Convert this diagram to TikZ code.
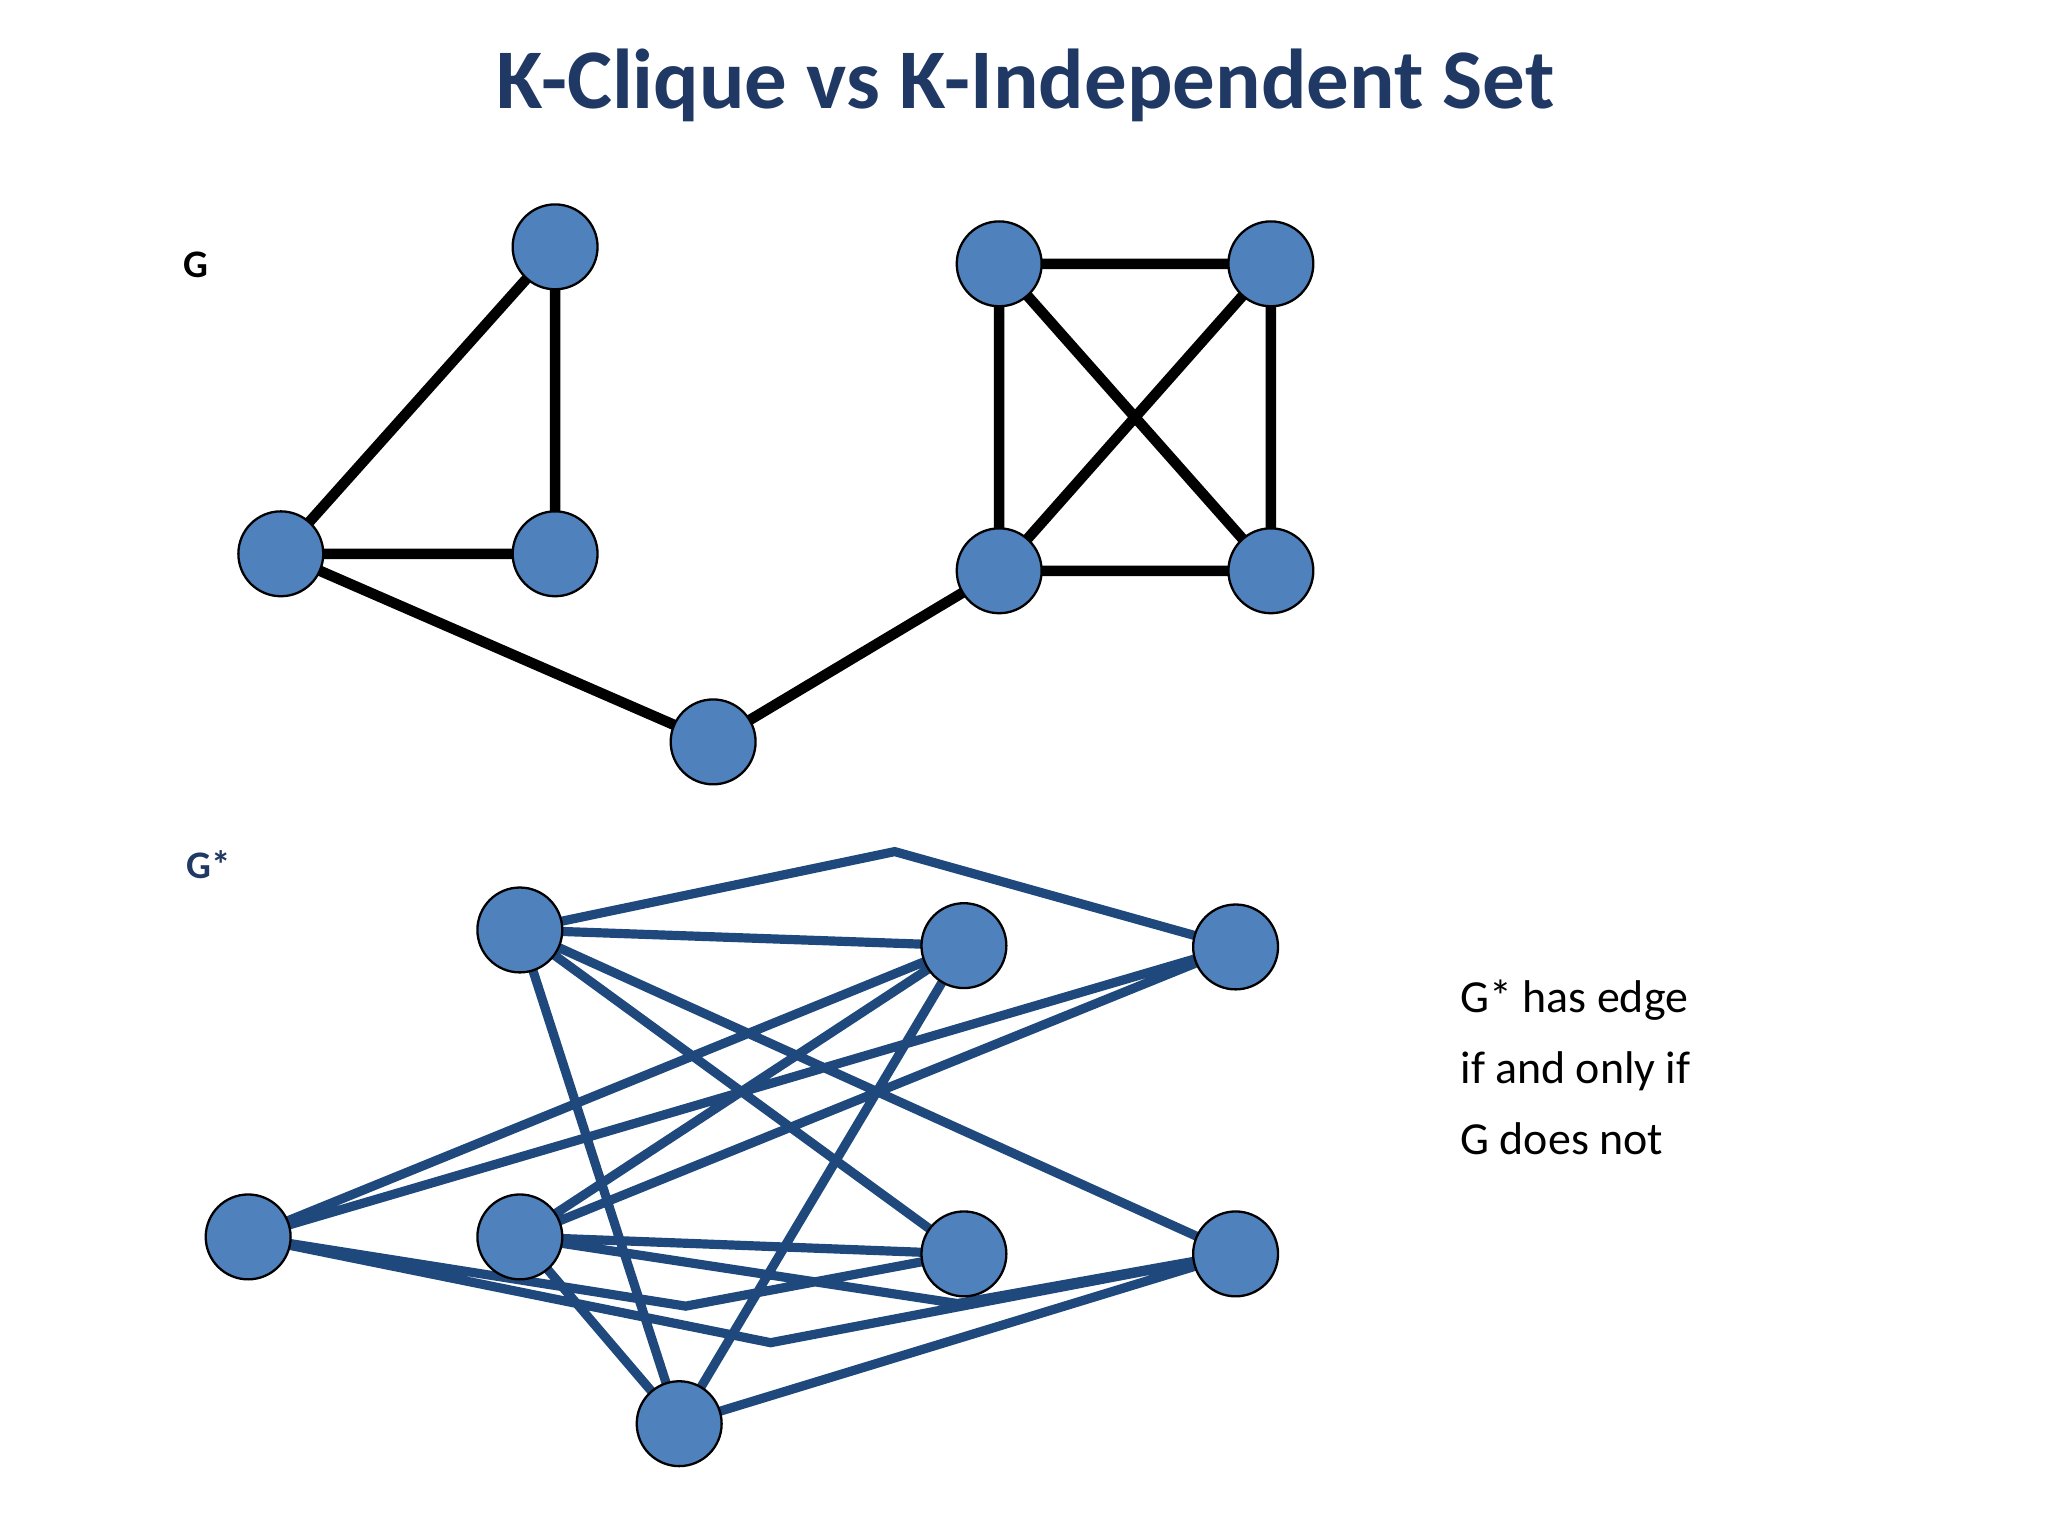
\documentclass[tikz,border=0pt]{standalone}
\usepackage{fontspec}
\setmainfont{Carlito}
\begin{document}
\begin{tikzpicture}[x=0.02cm,y=-0.02cm,
  vtx/.style={circle,draw=black,line width=1pt,fill={rgb,255:red,79;green,129;blue,189},minimum size=1.3cm,inner sep=0pt},
  blk/.style={line width=4.6pt,black},
  blu/.style={line width=4pt,draw={rgb,255:red,31;green,73;blue,125}}]
\useasboundingbox (0,0) rectangle (1568,1176);
\definecolor{ttl}{RGB}{31,56,100}
\node (title) at (785,65) {\fontsize{37}{44}\selectfont\bfseries\color{ttl}K-Clique vs K-Independent Set};
\node (g) at (150,203) {\fontsize{17}{20}\selectfont\bfseries G};
\node (gs) at (160,662) {\fontsize{17}{20}\selectfont\bfseries\color{ttl}G*};
\node[align=left,anchor=north west,font=\fontsize{20}{31}\selectfont] (txt) at (1112,744) {G* has edge\\ if and only if\\ G does not};
\coordinate (A) at (425,189); \coordinate (B) at (215,424); \coordinate (C) at (425,424);
\coordinate (D) at (765,202); \coordinate (E) at (973,202); \coordinate (F) at (765,437);
\coordinate (H) at (973,437); \coordinate (M) at (546,568);
\draw[blk] (A)--(B) (A)--(C) (B)--(C) (B)--(M) (M)--(F) (D)--(E) (D)--(F) (E)--(H) (F)--(H) (D)--(H) (E)--(F);
\foreach \n in {A,B,C,D,E,F,H,M} \node[vtx] (n\n) at (\n) {};
\coordinate (P1) at (398,712); \coordinate (P2) at (738,724); \coordinate (P3) at (946,725);
\coordinate (Q0) at (190,947); \coordinate (Q1) at (398,947); \coordinate (Q2) at (738,960);
\coordinate (Q3) at (946,960); \coordinate (R) at (520,1090);
\coordinate (k1) at (685,652); \coordinate (k2) at (525,1000); \coordinate (k3) at (590,1028); \coordinate (k4) at (733,998);
\draw[blu] (P1)--(k1)--(P3) (P1)--(P2) (P1)--(Q2) (P1)--(Q3) (P1)--(R)
  (P2)--(Q0) (P2)--(Q1) (P2)--(R) (P3)--(Q0) (P3)--(Q1)
  (Q0)--(k2)--(Q2) (Q0)--(k3)--(Q3) (Q1)--(Q2) (Q1)--(k4)--(Q3) (Q1)--(R) (R)--(Q3);
\foreach \n in {P1,P2,P3,Q0,Q1,Q2,Q3,R} \node[vtx] (n\n) at (\n) {};
\end{tikzpicture}
\end{document}
